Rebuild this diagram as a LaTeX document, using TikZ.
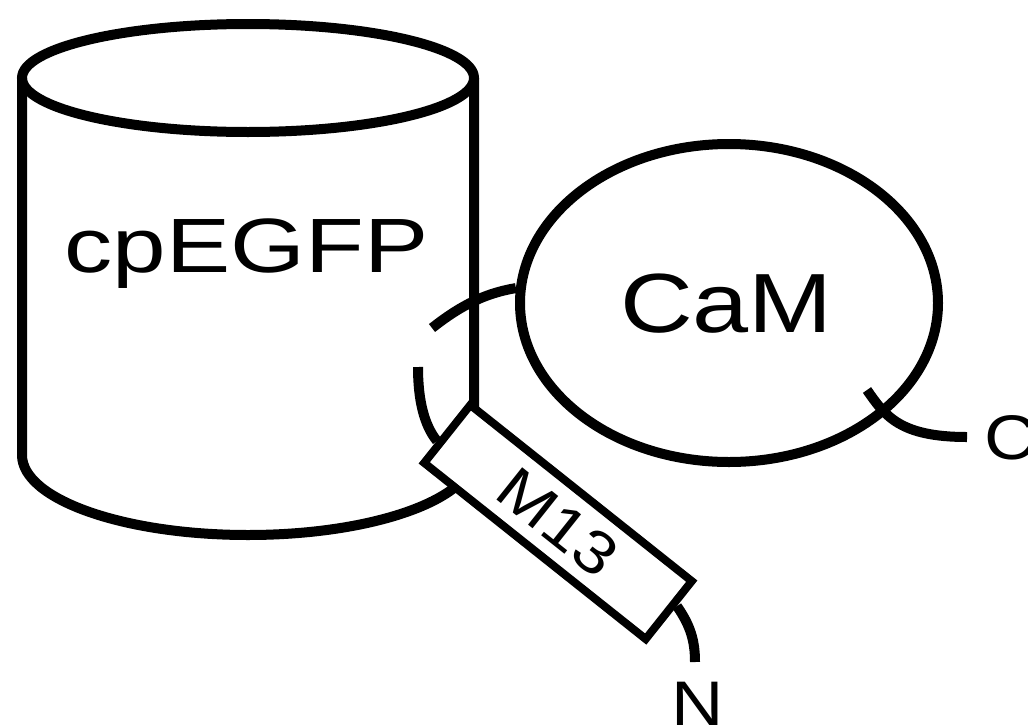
\documentclass[tikz,border=0pt]{standalone}
\usepackage{fontspec}
\setmainfont{Liberation Sans}
\usetikzlibrary{shapes.geometric,calc}
\begin{document}
\begin{tikzpicture}[x=1pt,y=-1pt,
  outline/.style={line width=10pt},
  linker/.style={line width=10pt},
  lbl/.style={inner sep=0pt, outer sep=0pt},
  ]
\useasboundingbox (0,0) rectangle (1028,726);
% cylinder (cpEGFP)
\coordinate (topc) at (248,78);
\draw[outline] (topc) ellipse [x radius=226, y radius=54];
\coordinate (tl) at (22,78);
\coordinate (tr) at (474,78);
\coordinate (bl) at (22,455);
\draw[outline] (tl) -- (bl) arc[start angle=180, end angle=0, x radius=226, y radius=80] -- (tr);
\node[lbl, anchor=base, font=\fontsize{77}{80}\selectfont] (gfp) at (246.5,272) {\scalebox{1.25}[1]{cpEGFP}};
% CaM
\node[draw, ellipse, line width=10pt, minimum width=418pt, minimum height=318pt, inner sep=0pt] (cam) at (729,303) {};
\node[lbl, anchor=base, font=\fontsize{84}{88}\selectfont] (camlbl) at (726.5,332) {\scalebox{1.2}[1]{CaM}};
% linker start points inside the cylinder
\coordinate (l1) at (432,328);
\coordinate (l2) at (418,367);
\draw[linker] (l1) .. controls (455,310) and (480,294) .. (cam.176);
% M13
\draw[linker] (l2) .. controls (418,400) and (424,425) .. (437,441);
\node[draw, fill=white, line width=8pt, rotate=-38.5, minimum width=283pt, minimum height=74pt, inner sep=0pt, font=\fontsize{60}{63}\selectfont] (m13) at (558,522) {\scalebox{1.15}[1]{M13}};
% tails
\coordinate (ctail) at (867,390);
\coordinate (cend) at (967,437);
\draw[linker] (ctail) .. controls (885,416) and (900,437) .. (cend);
\node[lbl, anchor=west, font=\fontsize{63}{66}\selectfont] (clbl) at (984,438) {\scalebox{1.15}[1]{C}};
\coordinate (nend) at (695,662);
\draw[linker] ($(m13.south east)!0.6!(m13.north east)$) .. controls (690,625) and (695,640) .. (nend);
\node[lbl, anchor=north, font=\fontsize{63}{66}\selectfont] (nlbl) at (698,682) {\scalebox{1.15}[1]{N}};
\end{tikzpicture}
\end{document}
